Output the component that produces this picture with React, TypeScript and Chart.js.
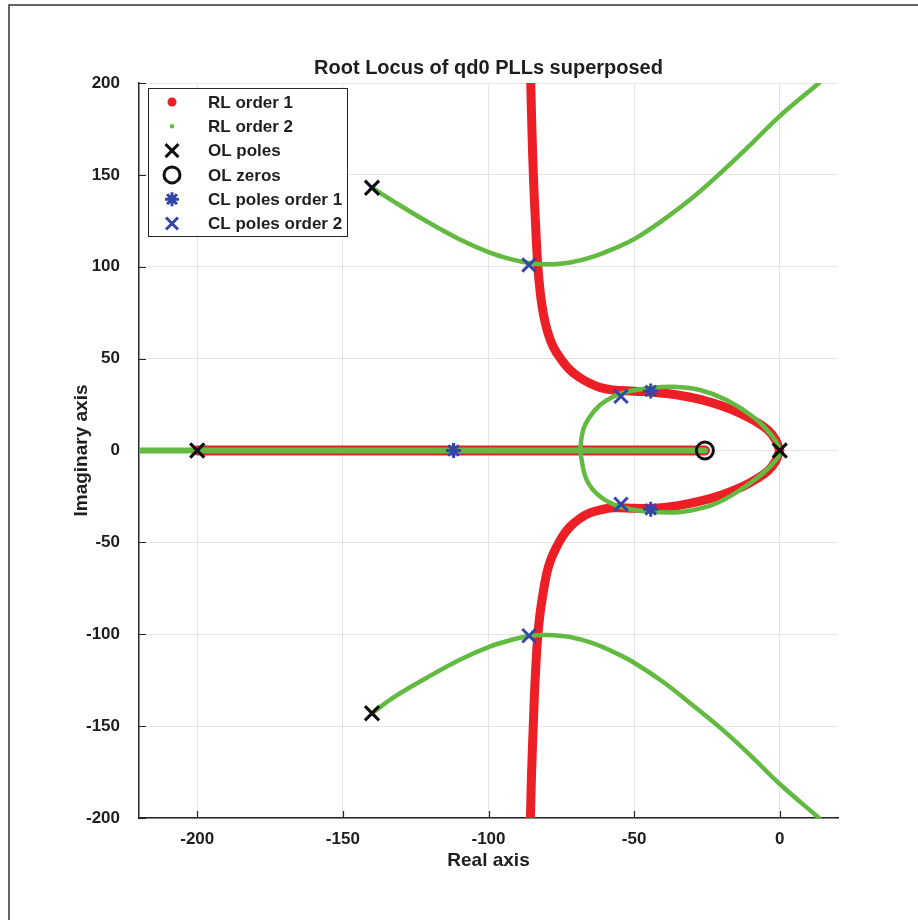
import React, { useEffect, useRef } from 'react';
import { Chart, registerables } from 'chart.js';

Chart.register(...registerables);

const FONT = "'Liberation Sans', Arial, Helvetica, sans-serif";
const TEXT_COLOR = '#1e1e1e';
const RED = 'rgb(236,30,38)';
const GREEN = 'rgb(98,186,64)';
const BLUE = 'rgb(52,70,170)';
const BLACK = '#111111';

const TITLE = 'Root Locus of qd0 PLLs superposed';
const X_LABEL = 'Real axis';
const Y_LABEL = 'Imaginary axis';
const X_TICKS = [-200, -150, -100, -50, 0];
const Y_TICKS = [-200, -150, -100, -50, 0, 50, 100, 150, 200];
const X_MIN = -220;
const X_MAX = 20;
const Y_MIN = -200;
const Y_MAX = 200;

const LEGEND_LABELS = ['RL order 1', 'RL order 2', 'OL poles', 'OL zeros', 'CL poles order 1', 'CL poles order 2'];

// Order 1 root locus (red)
const redRealX = [-200, -25.7];
const redRealY = [0, 0];
const redUpperX = [0, -1.5, -4, -8, -13, -20, -27.4, -35, -44, -50, -57.3, -61.5, -65.2, -68.8, -72, -75, -77.8, -79.8, -81.2, -82.3, -83.1, -83.9, -84.6, -85.1, -85.5];
const redUpperY = [0, 6, 11, 15.5, 19.8, 24.3, 27.8, 30.2, 31.8, 32.3, 32.9, 34.2, 36.6, 39.8, 43.8, 49.5, 56.5, 65, 74.7, 87, 101, 125, 150, 175, 200];
const redLowerX = [0, -1.5, -4, -8, -13, -20, -27.4, -35, -44, -50, -57.2, -61.5, -65.2, -68.8, -72, -74.5, -76.6, -78.5, -80, -81.5, -82.4, -83.1, -84, -84.6, -85.2, -85.6];
const redLowerY = [0, -6, -11, -15.5, -19.8, -24.2, -27.6, -30, -31.5, -31.4, -31.2, -32.3, -34, -37.2, -41.5, -46.5, -52.4, -59, -66.8, -80, -90, -101.3, -125, -148.5, -175, -200];

// Order 2 root locus (green)
const greenRealX = [-220, -25.7];
const greenRealY = [0, 0];
const greenLoopX = [-68.6, -67.5, -65.2, -61.7, -57.2, -52.6, -45.7, -36.6, -27.4, -18.3, -9.2, -3.4, 0, -2.3, -10.3, -21.7, -33.2, -44.6, -54.9, -61.7, -66.3, -68.6];
const greenLoopY = [0, 11.2, 18.4, 24.8, 29.3, 32, 33.8, 34.7, 32.9, 27.5, 18.4, 9.4, 0, -7, -17.9, -28.7, -33.3, -33.3, -30.6, -25.1, -16, 0];
const greenUpperX = [-140, -131, -121, -110, -100, -92, -86, -80, -72, -64, -56, -50, -40, -30, -20, -10, 0, 13.5];
const greenUpperY = [143, 134, 124.5, 115, 108, 104, 102, 101.3, 102.3, 105.5, 110.5, 115, 125.5, 137.5, 151.5, 166.5, 182, 200];
const greenLowerX = [-140, -132.7, -121, -110, -100, -92, -86, -80, -72, -64, -56, -50, -40, -30, -20, -10, 0, 13.5];
const greenLowerY = [-143, -134.5, -123.5, -114, -107, -103, -101, -100.4, -101.5, -105, -110.5, -115.5, -126, -138.5, -151.5, -166, -181.5, -200];

// Markers
const olPolesX = [0, -200, -140, -140];
const olPolesY = [0, 0, 143, -143];
const olZerosX = [-25.7];
const olZerosY = [0];
const clPoles1X = [-112, -44.3, -44.3];
const clPoles1Y = [0, 32.4, -32];
const clPoles2X = [-86.1, -86.1, -54.5, -54.5];
const clPoles2Y = [101, -100.8, 29.5, -29.2];

const pts = (xs: number[], ys: number[]) => xs.map((x, i) => ({ x, y: ys[i] }));

const lineDs = (data: any, color: string, width: number, order: number) => ({
  type: 'scatter' as const,
  data,
  showLine: true,
  borderColor: color,
  backgroundColor: color,
  borderWidth: width,
  pointRadius: 0,
  pointHoverRadius: 0,
  tension: 0.4,
  borderCapStyle: 'round' as const,
  borderJoinStyle: 'round' as const,
  order,
});

const markerDs = (data: any, style: string, color: string, radius: number, width: number, order: number) => ({
  type: 'scatter' as const,
  data,
  showLine: false,
  pointStyle: style,
  pointRadius: radius,
  pointHoverRadius: radius,
  pointBorderColor: color,
  pointBackgroundColor: 'rgba(0,0,0,0)',
  pointBorderWidth: width,
  borderColor: color,
  backgroundColor: 'rgba(0,0,0,0)',
  order,
});

function drawCross(ctx: CanvasRenderingContext2D, x: number, y: number, h: number) {
  ctx.beginPath();
  ctx.moveTo(x - h, y - h);
  ctx.lineTo(x + h, y + h);
  ctx.moveTo(x + h, y - h);
  ctx.lineTo(x - h, y + h);
  ctx.stroke();
}

const decorPlugin = {
  id: 'decor',
  beforeDatasetsDraw(chart: any) {
    const { ctx, chartArea: ca, scales } = chart;
    ctx.save();
    ctx.strokeStyle = '#262626';
    ctx.lineWidth = 1.2;
    ctx.beginPath();
    X_TICKS.forEach((v) => {
      const px = Math.round(scales.x.getPixelForValue(v)) + 0.5;
      ctx.moveTo(px, ca.bottom);
      ctx.lineTo(px, ca.bottom - 7);
    });
    Y_TICKS.forEach((v) => {
      const py = Math.round(scales.y.getPixelForValue(v)) + 0.5;
      ctx.moveTo(ca.left, py);
      ctx.lineTo(ca.left + 7, py);
    });
    ctx.stroke();
    ctx.restore();
  },
  afterDraw(chart: any) {
    const { ctx, chartArea: ca } = chart;
    ctx.save();
    // outer frame
    ctx.strokeStyle = '#333';
    ctx.lineWidth = 1.5;
    ctx.beginPath();
    ctx.moveTo(9, 920);
    ctx.lineTo(9, 5);
    ctx.lineTo(918, 5);
    ctx.stroke();

    // title
    ctx.fillStyle = TEXT_COLOR;
    ctx.font = `bold 20px ${FONT}`;
    ctx.textAlign = 'center';
    ctx.textBaseline = 'middle';
    ctx.fillText(TITLE, (ca.left + ca.right) / 2, 68);

    // legend
    const lx = ca.left + 9;
    const ly = ca.top + 5;
    const lw = 199;
    const lh = 148;
    ctx.fillStyle = '#ffffff';
    ctx.fillRect(lx, ly, lw, lh);
    ctx.strokeStyle = '#262626';
    ctx.lineWidth = 1;
    ctx.strokeRect(lx + 0.5, ly + 0.5, lw, lh);
    const mx = lx + 24;
    const tx = lx + 60;
    ctx.font = `bold 17px ${FONT}`;
    ctx.textAlign = 'left';
    ctx.textBaseline = 'middle';
    LEGEND_LABELS.forEach((label, i) => {
      const y = ly + 14 + i * 24.3;
      ctx.save();
      ctx.lineCap = 'butt';
      if (i === 0) {
        ctx.fillStyle = RED;
        ctx.beginPath();
        ctx.arc(mx, y, 4.5, 0, Math.PI * 2);
        ctx.fill();
      } else if (i === 1) {
        ctx.fillStyle = GREEN;
        ctx.beginPath();
        ctx.arc(mx, y, 2.2, 0, Math.PI * 2);
        ctx.fill();
      } else if (i === 2) {
        ctx.strokeStyle = BLACK;
        ctx.lineWidth = 3;
        drawCross(ctx, mx, y, 6.5);
      } else if (i === 3) {
        ctx.strokeStyle = BLACK;
        ctx.lineWidth = 3;
        ctx.beginPath();
        ctx.arc(mx, y, 8, 0, Math.PI * 2);
        ctx.stroke();
      } else if (i === 4) {
        ctx.strokeStyle = BLUE;
        ctx.lineWidth = 3;
        const r = 7;
        ctx.beginPath();
        for (let k = 0; k < 4; k++) {
          const a = (k * Math.PI) / 4;
          ctx.moveTo(mx - r * Math.cos(a), y - r * Math.sin(a));
          ctx.lineTo(mx + r * Math.cos(a), y + r * Math.sin(a));
        }
        ctx.stroke();
      } else {
        ctx.strokeStyle = BLUE;
        ctx.lineWidth = 3;
        drawCross(ctx, mx, y, 6);
      }
      ctx.restore();
      ctx.fillStyle = TEXT_COLOR;
      ctx.fillText(label, tx, y + 1);
    });
    ctx.restore();
  },
};

export default function App() {
  const canvasRef = useRef<HTMLCanvasElement | null>(null);

  useEffect(() => {
    document.body.style.margin = '0';
    const canvas = canvasRef.current;
    if (!canvas) return;
    const tickFont = { family: FONT, size: 17, weight: 'bold' as const };
    const titleFont = { family: FONT, size: 19, weight: 'bold' as const };
    const chart = new Chart(canvas, {
      type: 'scatter',
      data: {
        datasets: [
          markerDs(pts(olPolesX, olPolesY), 'crossRot', BLACK, 10, 3.2, 1),
          markerDs(pts(olZerosX, olZerosY), 'circle', BLACK, 8.5, 3, 2),
          markerDs(pts(clPoles1X, clPoles1Y), 'star', BLUE, 7.5, 3, 3),
          markerDs(pts(clPoles2X, clPoles2Y), 'crossRot', BLUE, 9.5, 3, 4),
          lineDs(pts(greenRealX, greenRealY), GREEN, 6, 10),
          lineDs(pts(greenLoopX, greenLoopY), GREEN, 4.5, 11),
          lineDs(pts(greenUpperX, greenUpperY), GREEN, 4.5, 12),
          lineDs(pts(greenLowerX, greenLowerY), GREEN, 4.5, 13),
          lineDs(pts(redRealX, redRealY), RED, 10, 20),
          lineDs(pts(redUpperX, redUpperY), RED, 9, 21),
          lineDs(pts(redLowerX, redLowerY), RED, 9, 22),
        ] as any,
      },
      options: {
        animation: false,
        responsive: false,
        maintainAspectRatio: false,
        layout: { padding: { top: 83, right: 80, left: 0, bottom: 0 } },
        plugins: {
          legend: { display: false },
          title: { display: false },
          tooltip: { enabled: false },
        },
        scales: {
          x: {
            type: 'linear',
            min: X_MIN,
            max: X_MAX,
            afterBuildTicks: (s: any) => {
              s.ticks = X_TICKS.map((v) => ({ value: v }));
            },
            afterFit: (s: any) => {
              s.height = 102;
            },
            grid: { color: '#e4e4e4', lineWidth: 1, drawTicks: false },
            border: { display: true, color: '#262626', width: 1.5 },
            ticks: {
              padding: 11,
              font: tickFont,
              color: TEXT_COLOR,
              maxRotation: 0,
              autoSkip: false,
              callback: (v: any) => String(v),
            },
            title: {
              display: true,
              text: X_LABEL,
              font: titleFont,
              color: TEXT_COLOR,
              padding: { top: 0, bottom: 48 },
            },
          },
          y: {
            type: 'linear',
            min: Y_MIN,
            max: Y_MAX,
            afterBuildTicks: (s: any) => {
              s.ticks = Y_TICKS.map((v) => ({ value: v }));
            },
            afterFit: (s: any) => {
              s.width = 139;
            },
            grid: { color: '#e4e4e4', lineWidth: 1, drawTicks: false },
            border: { display: true, color: '#262626', width: 1.5 },
            ticks: {
              padding: 19,
              font: tickFont,
              color: TEXT_COLOR,
              autoSkip: false,
              callback: (v: any) => String(v),
            },
            title: {
              display: true,
              text: Y_LABEL,
              font: titleFont,
              color: TEXT_COLOR,
              padding: { top: 70, bottom: 0 },
            },
          },
        },
      } as any,
      plugins: [decorPlugin],
    });
    return () => chart.destroy();
  }, []);

  return (
    <div style={{ width: 918, height: 920, background: '#fff' }}>
      <canvas ref={canvasRef} width={918} height={920} style={{ display: 'block' }} />
    </div>
  );
}
